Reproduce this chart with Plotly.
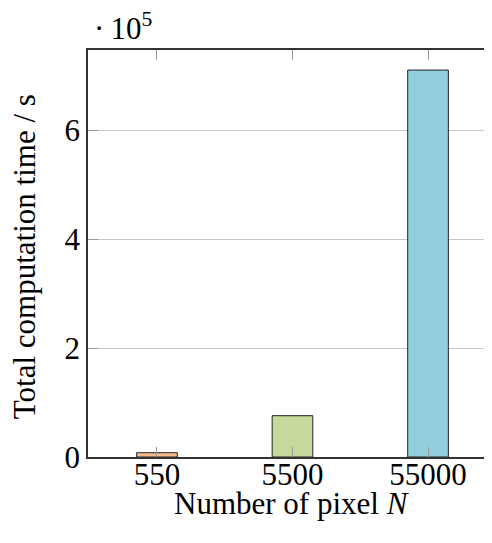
import plotly.graph_objects as go

categories = ["550", "5500", "55000"]
times = [7900, 75800, 710000]
colors = ["#F8B98B", "#C6D89C", "#93CEDC"]
y_tickvals = [0, 200000, 400000, 600000]
y_ticktext = ["0", "2", "4", "6"]

FONT = "Liberation Serif"
FS = 31

fig = go.Figure()
fig.add_trace(go.Bar(
    x=list(range(len(categories))),
    y=times,
    width=0.3,
    marker=dict(color=colors, line=dict(color="#222222", width=1)),
    showlegend=False,
))

fig.update_layout(
    width=492, height=543,
    margin=dict(l=80, r=3, t=42, b=94),
    paper_bgcolor="white", plot_bgcolor="white",
    font=dict(family=FONT, size=FS, color="black"),
    xaxis=dict(
        range=[-0.509, 2.509],
        tickvals=list(range(len(categories))),
        ticktext=categories,
        ticks="inside", ticklen=10, tickcolor="#9a9a9a", tickwidth=1,
        ticklabelstandoff=-11,
        showline=True, linecolor="#333333", linewidth=1.5, mirror="ticks",
        showgrid=False, zeroline=False,
        tickfont=dict(family=FONT, size=FS),
    ),
    yaxis=dict(
        range=[0, 746800],
        tickvals=y_tickvals,
        ticktext=y_ticktext,
        ticks="inside", ticklen=10, tickcolor="#9a9a9a", tickwidth=1,
        showline=True, linecolor="#333333", linewidth=1.5, mirror=False,
        showgrid=True, gridcolor="#c8c8c8", gridwidth=1,
        zeroline=False,
        tickfont=dict(family=FONT, size=FS),
    ),
    annotations=[
        dict(text="Total computation time / s", textangle=-90,
             xref="paper", yref="paper", x=0, y=0.491, xshift=-64,
             xanchor="center", yanchor="middle", showarrow=False,
             font=dict(family=FONT, size=FS)),
        dict(text="Number of pixel <i>N</i>",
             xref="paper", yref="paper", x=0.4976, y=0, yshift=-46,
             xanchor="center", yanchor="middle", showarrow=False,
             font=dict(family=FONT, size=FS)),
        dict(text="·\u200910<sup>5</sup>",
             xref="paper", yref="paper", x=0, y=1, xshift=4, yshift=24,
             xanchor="left", yanchor="middle", showarrow=False,
             font=dict(family=FONT, size=FS)),
    ],
)

fig.write_html("out.html")
